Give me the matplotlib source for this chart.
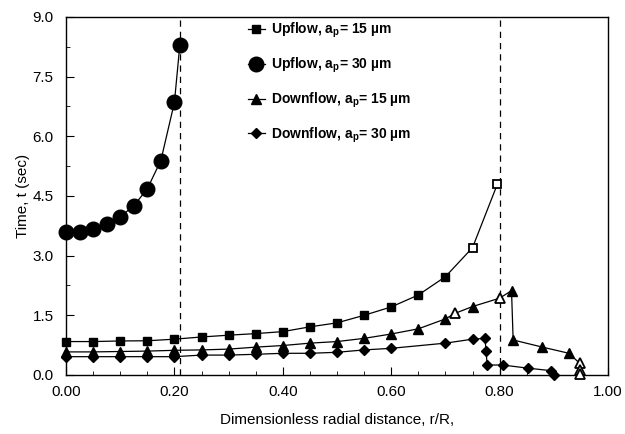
import matplotlib
matplotlib.use("Agg")
import matplotlib.pyplot as plt
from matplotlib.ticker import MultipleLocator

plt.rcParams["font.family"] = ["Liberation Sans", "DejaVu Sans"]

# Upflow, a_p = 15 um (squares)
up15_x = [0.0, 0.05, 0.10, 0.15, 0.20, 0.25, 0.30, 0.35, 0.40, 0.45, 0.50, 0.55,
          0.60, 0.65, 0.70, 0.75, 0.796]
up15_y = [0.84, 0.84, 0.855, 0.86, 0.90, 0.955, 1.0, 1.04, 1.09, 1.21, 1.31, 1.50,
          1.71, 2.01, 2.47, 3.2, 4.8]
up15_open = [False] * 15 + [True, True]

# Upflow, a_p = 30 um (circles)
up30_x = [0.0, 0.025, 0.05, 0.075, 0.10, 0.125, 0.15, 0.175, 0.20, 0.21]
up30_y = [3.6, 3.6, 3.67, 3.79, 3.98, 4.25, 4.68, 5.39, 6.85, 8.29]

# Downflow, a_p = 15 um (triangles)
dn15_x = [0.0, 0.05, 0.10, 0.15, 0.20, 0.25, 0.30, 0.35, 0.40, 0.45, 0.50, 0.55,
          0.60, 0.65, 0.70, 0.718, 0.75, 0.80, 0.822, 0.825, 0.879, 0.928,
          0.948, 0.948, 0.948]
dn15_y = [0.58, 0.58, 0.59, 0.60, 0.62, 0.63, 0.65, 0.70, 0.74, 0.80, 0.84, 0.92,
          1.03, 1.16, 1.41, 1.55, 1.72, 1.93, 2.12, 0.88, 0.70, 0.545,
          0.29, 0.12, 0.02]
dn15_open = [False] * 15 + [True, False, True, False, False, False, False,
                            True, True, True]

# Downflow, a_p = 30 um (diamonds)
dn30_x = [0.0, 0.05, 0.10, 0.15, 0.20, 0.25, 0.30, 0.35, 0.40, 0.45, 0.50, 0.55,
          0.60, 0.70, 0.75, 0.773, 0.775, 0.777, 0.806, 0.853, 0.894, 0.90]
dn30_y = [0.46, 0.46, 0.46, 0.46, 0.46, 0.50, 0.50, 0.52, 0.545, 0.545, 0.57, 0.63,
          0.67, 0.80, 0.90, 0.92, 0.61, 0.25, 0.25, 0.17, 0.11, 0.01]

vlines_x = [0.21, 0.80]

xticks = [0.0, 0.2, 0.4, 0.6, 0.8, 1.0]
xtick_labels = ["0.00", "0.20", "0.40", "0.60", "0.80", "1.00"]
yticks = [0.0, 1.5, 3.0, 4.5, 6.0, 7.5, 9.0]


def plot_series(ax, xs, ys, marker, ms, label, open_flags=None):
    ax.plot(xs, ys, "-", color="black", lw=0.9, zorder=2)
    if open_flags is None:
        open_flags = [False] * len(xs)
    fx = [x for x, o in zip(xs, open_flags) if not o]
    fy = [y for y, o in zip(ys, open_flags) if not o]
    ox = [x for x, o in zip(xs, open_flags) if o]
    oy = [y for y, o in zip(ys, open_flags) if o]
    ax.plot(fx, fy, marker, color="black", ms=ms, ls="none", zorder=3, clip_on=False)
    if ox:
        ax.plot(ox, oy, marker, color="black", mfc="white", mew=1.3, ms=ms,
                ls="none", zorder=3, clip_on=False)
    return ax.plot([], [], "-", marker=marker, color="black", lw=0.9, ms=ms,
                   label=label)[0]


fig = plt.figure(figsize=(6.25, 4.34), dpi=100)
ax = fig.add_axes([0.1056, 0.136, 0.8672, 0.825])

for vx in vlines_x:
    ax.axvline(vx, color="black", ls=(0, (5, 4)), lw=0.9, zorder=1)

h1 = plot_series(ax, up15_x, up15_y, "s", 5.5, r"Upflow, a$_\mathregular{p}$= 15 µm", up15_open)
h2 = plot_series(ax, up30_x, up30_y, "o", 10.5, r"Upflow, a$_\mathregular{p}$= 30 µm")
h3 = plot_series(ax, dn15_x, dn15_y, "^", 7.5, r"Downflow, a$_\mathregular{p}$= 15 µm", dn15_open)
h4 = plot_series(ax, dn30_x, dn30_y, "D", 5.5, r"Downflow, a$_\mathregular{p}$= 30 µm")

ax.set_xlim(0, 1.0)
ax.set_ylim(0, 9.0)
ax.set_xticks(xticks)
ax.set_xticklabels(xtick_labels)
ax.set_yticks(yticks)
ax.set_yticklabels([f"{v:.1f}" for v in yticks])
ax.xaxis.set_minor_locator(MultipleLocator(0.05))
ax.yaxis.set_minor_locator(MultipleLocator(0.75))
ax.tick_params(which="both", direction="in", labelsize=11, top=False, right=False)
ax.tick_params(which="major", length=6)
ax.tick_params(which="minor", length=3)
ax.tick_params(axis="x", pad=7)
ax.tick_params(axis="y", pad=9)
for s in ax.spines.values():
    s.set_linewidth(1.0)

ax.set_xlabel("Dimensionless radial distance, r/R,", fontsize=11, labelpad=10)
ax.set_ylabel("Time, t (sec)", fontsize=11, labelpad=2)

leg = ax.legend(handles=[h1, h2, h3, h4], loc="upper left",
                bbox_to_anchor=(0.315, 1.02), frameon=False,
                prop={"weight": "bold", "size": 10}, labelspacing=1.12,
                handlelength=1.2, handletextpad=0.45, borderaxespad=0.4)

fig.savefig("out.png", dpi=100)
